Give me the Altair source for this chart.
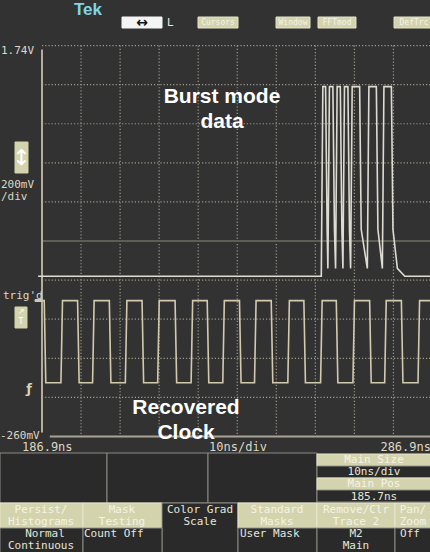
import altair as alt
import pandas as pd

T_LEFT, T_RIGHT = 186.9, 286.9          # ns, 10 ns/div
V_TOP, V_BOTTOM = 1.74, -0.26           # V, 200 mV/div
grid_time_ns = [196.9, 206.9, 216.9, 226.9, 236.9, 246.9, 256.9, 266.9, 276.9]
grid_volt_v = [1.74, 1.54, 1.34, 1.14, 0.94, 0.54, 0.34, 0.14, -0.06]
center_volt_v = [0.74]

clock_fall_ns = [187.67, 196.21, 204.34, 212.72, 221.18, 229.41, 237.67,
                 245.80, 254.16, 262.46, 271.00, 279.13]
clock_rise_ns = [191.95, 200.05, 208.44, 216.72, 225.28, 233.39, 241.52,
                 250.05, 258.44, 266.72, 274.85, 283.39]
clock_high_v, clock_low_v = 0.435, 0.015

burst_rise_ns = [258.62, 260.31, 262.28, 264.16, 266.13, 270.41, 274.26]
burst_fall_ns = [259.72, 261.59, 263.49, 265.44, 268.44, 272.72, 276.57]
burst_high_v, burst_knee_v, burst_gap_v, burst_base_v = 1.53, 0.80, 0.60, 0.56
burst_tail_ns = [277.9, 279.8]
burst_tail_v = [0.60, 0.56]

scale_labels = ["1.74V", "200mV", "/div", "trig'd", "-260mV"]
time_labels = ["186.9ns", "10ns/div", "286.9ns"]
menu_labels = ["Cursors", "Window", "FFTmod", "DefTrc"]
note_labels = ["Burst mode", "data", "Recovered", "Clock"]
side_labels = ["Main Size", "10ns/div", "Main Pos", "185.7ns"]
soft_labels = ["Persist/", "Histograms", "Mask", "Testing", "Color Grad", "Scale",
               "Standard", "Masks", "Remove/Clr", "Trace 2", "Pan/", "Zoom"]
value_labels = ["Normal", "Continuous", "Count Off", "User Mask", "M2", "Main", "Off"]

# ---------------- screen mapping & style ----------------
X_DOM = [176.145, 286.26]
Y_DOM = [-0.851, 1.973]
BG = "#323232"
GRID = "#9c9a88"
TXT = "#dcd8c6"
BEIGE = "#d3d3ad"
BEIGE_TXT = "#f3f3e6"
DARK = "#2a2a2a"
EDGE_C = "#8a8a84"
MONO = "DejaVu Sans Mono"
EDGE = 0.2

xs = alt.Scale(domain=X_DOM, nice=False, zero=False)
ys = alt.Scale(domain=Y_DOM, nice=False, zero=False)


def wx(f):
    return alt.X(f, type="quantitative", scale=xs, axis=None)


def wy(f):
    return alt.Y(f, type="quantitative", scale=ys, axis=None)


# graticule
vgrid = pd.DataFrame({"t": grid_time_ns, "v1": V_TOP, "v2": V_BOTTOM})
hgrid = pd.DataFrame({"v": grid_volt_v, "t1": T_LEFT, "t2": T_RIGHT + 2})
cgrid = pd.DataFrame({"v": center_volt_v, "t1": T_LEFT, "t2": T_RIGHT + 2})

g_v = alt.Chart(vgrid).mark_rule(color=GRID, strokeWidth=1.2, strokeDash=[1.2, 2]).encode(
    x=wx("t"), y=wy("v1"), y2="v2")
g_h = alt.Chart(hgrid).mark_rule(color=GRID, strokeWidth=1.2, strokeDash=[1.2, 2]).encode(
    x=wx("t1"), x2="t2", y=wy("v"))
g_c = alt.Chart(cgrid).mark_rule(color="#5e5d56", strokeWidth=2).encode(
    x=wx("t1"), x2="t2", y=wy("v"))

frame_v = pd.DataFrame({"t": [T_LEFT], "v1": [V_TOP - 0.02], "v2": [V_BOTTOM + 0.02]})
frame_h = pd.DataFrame({"v": [V_BOTTOM], "t1": [T_LEFT + 2.0], "t2": [T_RIGHT + 2]})
f_v = alt.Chart(frame_v).mark_rule(color="#b5ad9c", strokeWidth=2).encode(
    x=wx("t"), y=wy("v1"), y2="v2")
f_h = alt.Chart(frame_h).mark_rule(color="#a7a394", strokeWidth=2).encode(
    x=wx("t1"), x2="t2", y=wy("v"))

# clock trace
edges = sorted([(t, "f") for t in clock_fall_ns] + [(t, "r") for t in clock_rise_ns])
clk = [(T_LEFT, clock_high_v)]
for t, kind in edges:
    if kind == "f":
        clk += [(t - EDGE, clock_high_v), (t + EDGE, clock_low_v)]
    else:
        clk += [(t - EDGE, clock_low_v), (t + EDGE, clock_high_v)]
clk.append((X_DOM[1], clock_high_v))
clk_df = pd.DataFrame(clk, columns=["t", "v"])
clk_df["i"] = range(len(clk_df))

# burst trace
bst = [(T_LEFT - 1.0, burst_base_v)]
low = burst_base_v
for r, f in zip(burst_rise_ns, burst_fall_ns):
    bst += [(r - EDGE, low), (r + EDGE, burst_high_v),
            (f - EDGE, burst_high_v), (f + EDGE, burst_knee_v)]
    low = burst_gap_v
bst += list(zip(burst_tail_ns, burst_tail_v))
bst.append((X_DOM[1], burst_base_v))
bst_df = pd.DataFrame(bst, columns=["t", "v"])
bst_df["i"] = range(len(bst_df))

clock_line = alt.Chart(clk_df).mark_line(color="#d3caae", strokeWidth=1.6).encode(
    x=wx("t"), y=wy("v"), order="i:Q")
burst_line = alt.Chart(bst_df).mark_line(color="#dedcd0", strokeWidth=1.6).encode(
    x=wx("t"), y=wy("v"), order="i:Q")

# ---------------- screen chrome (pixel positions) ----------------
rects = [
    (122, 162, 17, 28, "#f4f4f4", "#f4f4f4"),
    (198, 238, 17, 28, BEIGE, "#e4e4c8"),
    (276, 310, 17, 28, BEIGE, "#e4e4c8"),
    (318, 356, 17, 28, BEIGE, "#e4e4c8"),
    (394, 434, 17, 28, BEIGE, "#e4e4c8"),
    (15, 28, 142, 173, BEIGE, BEIGE),
    (15, 27, 307, 328, BEIGE, BEIGE),
    (35, 42, 299.5, 301.5, "#d0c8b0", "#d0c8b0"),
    (0, 107, 453, 503, DARK, EDGE_C),
    (107, 208, 453, 503, DARK, EDGE_C),
    (208, 317, 453, 503, DARK, EDGE_C),
    (317, 432, 454, 466, BEIGE, "#e8e8d0"),
    (317, 432, 466, 478, DARK, EDGE_C),
    (317, 432, 478, 490, BEIGE, "#e8e8d0"),
    (317, 432, 490, 502, DARK, EDGE_C),
    (0, 83, 503, 528, BEIGE, "#e8e8d0"),
    (83, 162, 503, 528, BEIGE, "#e8e8d0"),
    (162, 238, 503, 553, DARK, EDGE_C),
    (238, 317, 503, 528, BEIGE, "#e8e8d0"),
    (317, 395, 503, 528, BEIGE, "#e8e8d0"),
    (395, 432, 503, 528, BEIGE, "#e8e8d0"),
    (0, 83, 528, 553, DARK, EDGE_C),
    (83, 162, 528, 553, DARK, EDGE_C),
    (238, 317, 528, 553, DARK, EDGE_C),
    (317, 395, 528, 553, DARK, EDGE_C),
    (395, 432, 528, 553, DARK, EDGE_C),
]
rect_df = pd.DataFrame(rects, columns=["x", "x2", "y", "y2", "fill", "stroke"])
ui_rects = alt.Chart(rect_df).mark_rect(strokeWidth=1).encode(
    x=alt.X("x:Q", scale=None, axis=None), x2="x2:Q",
    y=alt.Y("y:Q", scale=None, axis=None), y2="y2:Q",
    fill=alt.Fill("fill:N", scale=None), stroke=alt.Stroke("stroke:N", scale=None))

texts = []


def add(label, x, y, align, size, color, font=MONO, weight="normal"):
    texts.append(dict(label=label, x=x, y=y, align=align, size=size,
                      color=color, font=font, weight=weight))


# scale labels
for lab, (x, y) in zip(scale_labels, [(1, 51), (1, 185), (1, 197), (3, 296), (0, 436)]):
    add(lab, x, y, "left", 11, TXT)
for lab, (x, y, al) in zip(time_labels, [(22, 447, "left"), (238, 447, "center"), (431, 447, "right")]):
    add(lab, x, y, al, 12, TXT)
for lab, x in zip(menu_labels, [218, 293, 337, 414]):
    add(lab, x, 22.5, "center", 8, BEIGE_TXT)
add("L", 167, 22.5, "left", 11, "#e8e8e8", font="DejaVu Sans")
add("↔", 142, 22.5, "center", 14, "#111111", font="DejaVu Sans", weight="bold")
add("↕", 21.5, 157.5, "center", 22, "#ffffff", font="DejaVu Sans")
add("↗", 21, 312, "center", 8, "#ffffff", font="DejaVu Sans")
add("T", 21, 322, "center", 8, "#ffffff", font="DejaVu Sans")
add("ƒ", 29, 389, "center", 13, "#d8d4b0", font="DejaVu Sans", weight="bold")
add("Tek", 88, 9.5, "center", 17, "#7fd6e6", font="Liberation Sans", weight="bold")
for lab, y in zip(side_labels, [460, 472, 484, 496.5]):
    add(lab, 374, y, "center", 11, BEIGE_TXT if lab.startswith("Main") else "#e6e6da")
soft_pos = [(41, 509.5), (41, 521.5), (122, 509.5), (122, 521.5), (200, 509.5), (200, 521.5),
            (277, 509.5), (277, 521.5), (356, 509.5), (356, 521.5), (413, 509.5), (413, 521.5)]
for lab, (x, y) in zip(soft_labels, soft_pos):
    add(lab, x, y, "center", 11, "#e6e6da" if lab in ("Color Grad", "Scale") else BEIGE_TXT)
val_pos = [(45, 534), (41, 545.5), (84, 534), (240, 534), (356, 534), (356, 545.5), (410, 534)]
val_align = ["center", "center", "left", "left", "center", "center", "center"]
for lab, (x, y), al in zip(value_labels, val_pos, val_align):
    add(lab, x, y, al, 11, "#e6e6da")
for lab, (x, y) in zip(note_labels, [(222, 97), (222, 122), (186, 408), (186, 433)]):
    add(lab, x, y, "center", 21, "#ffffff", font="Liberation Sans", weight="bold")

txt_df = pd.DataFrame(texts)
text_layers = []
for (al, font, weight), sub in txt_df.groupby(["align", "font", "weight"]):
    text_layers.append(
        alt.Chart(sub.reset_index(drop=True)).mark_text(
            align=al, baseline="middle", font=font, fontWeight=weight).encode(
            x=alt.X("x:Q", scale=None, axis=None),
            y=alt.Y("y:Q", scale=None, axis=None),
            text="label:N",
            color=alt.Color("color:N", scale=None),
            size=alt.Size("size:Q", scale=None)))

chart = alt.layer(
    g_v, g_h, g_c, f_v, f_h, clock_line, burst_line, ui_rects, *text_layers
).resolve_scale(x="independent", y="independent").properties(
    width=430, height=552, padding=0, autosize="none", background=BG
).configure_view(stroke=None, fill=BG)

chart.save("out.html", embed_options={"renderer": "svg", "actions": False})
